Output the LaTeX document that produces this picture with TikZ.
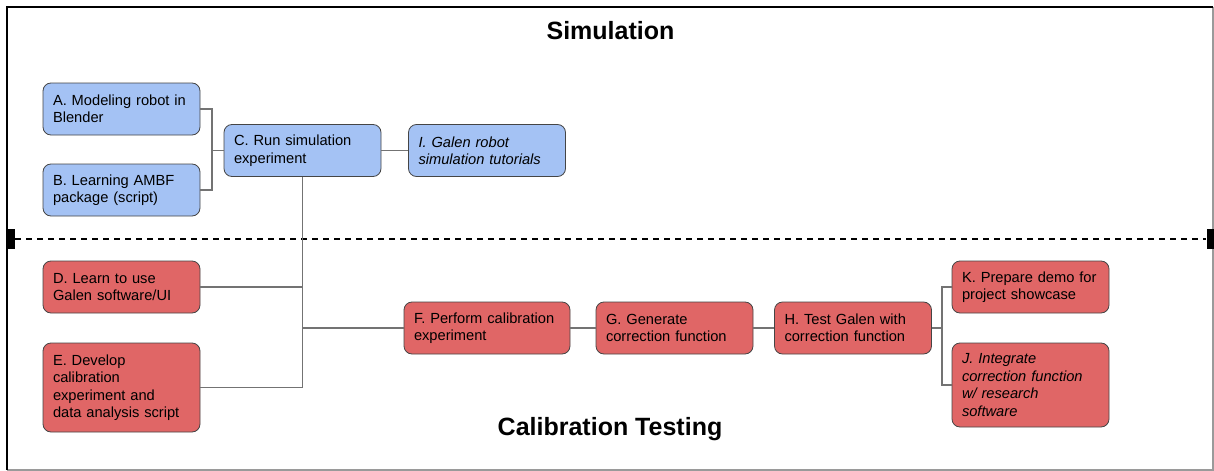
\documentclass[tikz,border=0pt]{standalone}
\usepackage{fontspec}
\setmainfont{Liberation Sans}
\begin{document}
\begin{tikzpicture}[x=0.75pt,y=-0.75pt,
  box/.style={draw=boxline, line width=0.6pt, rounded corners=6pt,
    font=\fontsize{11}{13.1}\selectfont, align=left,
    inner xsep=7.5pt, inner ysep=0pt, anchor=center,
    text width=102.75pt, minimum height=39pt},
  simbox/.style={box, fill=simblue},
  calbox/.style={box, fill=calred},
  wide/.style={text width=109.5pt},
  tall/.style={minimum height=#1},
  link/.style={draw=linkgray, line width=0.9pt},
  heading/.style={font=\fontsize{18.75}{22}\selectfont\bfseries, anchor=base, inner sep=0pt},
  marker/.style={fill=black, draw=none, inner sep=0pt, minimum width=6pt, minimum height=15pt}
]
\definecolor{simblue}{HTML}{A4C2F4}
\definecolor{calred}{HTML}{E06666}
\definecolor{boxline}{HTML}{454545}
\definecolor{linkgray}{HTML}{737373}
\definecolor{framegray}{HTML}{9A9A9A}

\useasboundingbox (0,0) rectangle (1214,471);

% outer frame
\draw[framegray, line width=0.8pt] (1213,6.5) -- (1213,470) -- (7,470);
\draw[black, line width=1.5pt] (7,470) -- (7,6.5) -- (1213,6.5);

% section divider
\node[marker] (lmark) at (11,239) {};
\node[marker] (rmark) at (1210.5,239) {};
\draw[black, line width=1pt, dash pattern=on 4.5pt off 3.75pt] (lmark.east) -- (rmark.west);

% headings
\node[heading] (simtitle) at (610.5,39) {Simulation};
\node[heading] (caltitle) at (610,435) {Calibration Testing};

% simulation tasks
\node[simbox] (A) at (121.5,109) {A. Modeling robot in\\Blender};
\node[simbox] (B) at (121.5,190) {B. Learning AMBF\\package (script)};
\node[simbox] (C) at (302.5,150.5) {C. Run simulation\\experiment};
\node[simbox] (I) at (487,150.5) {\itshape I. Galen robot\\\itshape simulation tutorials};

% calibration tasks
\node[calbox] (D) at (121.5,287) {D. Learn to use\\Galen software/UI};
\node[calbox, tall=66.75pt] (E) at (121.5,387.5) {E. Develop\\calibration\\experiment and\\data analysis script};
\node[calbox, wide] (F) at (487,328) {F. Perform calibration\\experiment};
\node[calbox] (G) at (674.5,328) {G. Generate\\correction function};
\node[calbox] (H) at (853,328) {H. Test Galen with\\correction function};
\node[calbox] (K) at (1030.5,287) {K. Prepare demo for\\project showcase};
\node[calbox, tall=63pt] (J) at (1030.5,385) {\itshape J. Integrate\\\itshape correction function\\\itshape w/ research\\\itshape software};

% connectors
\coordinate (ab) at (212,150.5);
\coordinate (hb) at (942,328);
\draw[link] (A.east) -| (ab) |- (B.east);
\draw[link] (ab) -- (C.west);
\draw[link] (C.east) -- (I.west);
\draw[link] (C.south) -- (C.south |- E.east);
\draw[link] (D.east) -- (D.east -| C.south);
\draw[link] (E.east) -- (E.east -| C.south);
\draw[link] (F.west -| C.south) -- (F.west);
\draw[link] (F.east) -- (G.west);
\draw[link] (G.east) -- (H.west);
\draw[link] (H.east) -- (hb);
\draw[link] (K.west) -| (hb) |- (J.west);
\end{tikzpicture}
\end{document}
